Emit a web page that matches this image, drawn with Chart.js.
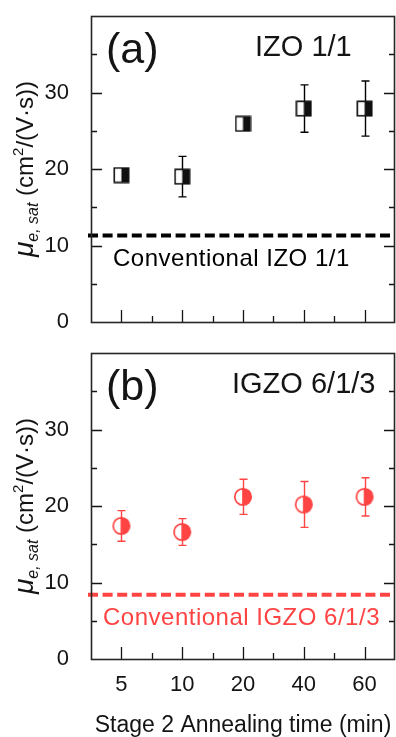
<!DOCTYPE html>
<html>
<head>
<meta charset="utf-8">
<script src="https://cdn.jsdelivr.net/npm/chart.js@4/dist/chart.umd.min.js"></script>
<style>
  html, body { margin: 0; padding: 0; background: #fff; }
  #wrap { position: relative; width: 396px; height: 737px; overflow: hidden; }
  canvas { position: absolute; left: 0; }
  #ca { top: 0; }
  #cb { top: 345px; }
</style>
</head>
<body>
<div id="wrap">
  <canvas id="ca" width="396" height="345"></canvas>
  <canvas id="cb" width="396" height="392"></canvas>
</div>
<script>
// ---- data ----
const categories = ['5', '10', '20', '40', '60'];
const izoMobility = [19.2, 19.0, 25.9, 27.9, 27.9];
const izoError = [0.5, 2.65, 0.5, 3.1, 3.6];
const igzoMobility = [17.4, 16.6, 21.2, 20.2, 21.2];
const igzoError = [2.0, 1.75, 2.3, 3.0, 2.5];
const izoConventional = 11.3;
const igzoConventional = 8.4;
const yMajorTicks = [0, 10, 20, 30];
const yMinorTicks = [5, 15, 25, 35];

const FONT = '"Liberation Sans", Arial, Helvetica, sans-serif';
const RED = '#ff4444';
const INK = '#141414';

function squareMarker() {
  const c = document.createElement('canvas');
  c.width = 17; c.height = 17;
  const g = c.getContext('2d');
  g.fillStyle = '#fff'; g.fillRect(1, 1, 15, 15);
  g.fillStyle = '#111'; g.fillRect(8.5, 1, 7.5, 15);
  g.strokeStyle = '#111'; g.lineWidth = 1.6;
  g.strokeRect(1.3, 1.3, 14.4, 14.4);
  return c;
}
function circleMarker() {
  const c = document.createElement('canvas');
  c.width = 20; c.height = 20;
  const g = c.getContext('2d');
  const cx = 10, cy = 10, r = 8.2;
  g.fillStyle = '#fff';
  g.beginPath(); g.arc(cx, cy, r, 0, Math.PI * 2); g.fill();
  g.fillStyle = RED;
  g.beginPath(); g.moveTo(cx, cy - r); g.arc(cx, cy, r, -Math.PI / 2, Math.PI / 2); g.closePath(); g.fill();
  g.strokeStyle = RED; g.lineWidth = 1.7;
  g.beginPath(); g.arc(cx, cy, r, 0, Math.PI * 2); g.stroke();
  g.beginPath(); g.moveTo(cx, cy - r); g.lineTo(cx, cy + r); g.stroke();
  return c;
}

function drawYTitle(ctx, cx, cy) {
  const parts = [
    { t: 'μ', f: 'italic 28px ' + FONT, dy: 0 },
    { t: 'e, sat', f: 'italic 16px ' + FONT, dy: 5 },
    { t: ' (cm', f: '24px ' + FONT, dy: 0 },
    { t: '2', f: '15px ' + FONT, dy: -10 },
    { t: '/(V·s))', f: '24px ' + FONT, dy: 0 }
  ];
  ctx.save();
  ctx.fillStyle = INK;
  ctx.textBaseline = 'alphabetic';
  ctx.textAlign = 'left';
  let total = 0;
  parts.forEach(p => { ctx.font = p.f; p.w = ctx.measureText(p.t).width; total += p.w; });
  ctx.translate(cx, cy);
  ctx.rotate(-Math.PI / 2);
  let x = -total / 2;
  parts.forEach(p => { ctx.font = p.f; ctx.fillText(p.t, x, p.dy); x += p.w; });
  ctx.restore();
}

function makeDeco(cfg) {
  return {
    id: 'deco' + cfg.key,
    beforeDatasetsDraw(chart) {
      const { ctx, chartArea: a, scales: { x, y } } = chart;
      ctx.save();
      const yy = y.getPixelForValue(cfg.conv);
      ctx.strokeStyle = cfg.color; ctx.lineWidth = 4; ctx.setLineDash([10, 4.6]);
      ctx.beginPath(); ctx.moveTo(a.left - 3, yy); ctx.lineTo(a.right, yy); ctx.stroke();
      ctx.setLineDash([]);
      const meta = chart.getDatasetMeta(0);
      ctx.strokeStyle = cfg.color; ctx.lineWidth = 1.4;
      meta.data.forEach((pt, i) => {
        const v = cfg.values[i], e = cfg.errors[i];
        const t = y.getPixelForValue(v + e), b = y.getPixelForValue(v - e);
        const xx = Math.round(pt.x) + 0.5;
        ctx.beginPath();
        ctx.moveTo(xx, t); ctx.lineTo(xx, b);
        ctx.moveTo(xx - 4, t); ctx.lineTo(xx + 4, t);
        ctx.moveTo(xx - 4, b); ctx.lineTo(xx + 4, b);
        ctx.stroke();
      });
      ctx.restore();
    },
    afterDraw(chart) {
      const { ctx, chartArea: a, scales: { x, y } } = chart;
      ctx.save();
      ctx.strokeStyle = INK; ctx.lineWidth = 1.3;
      ctx.beginPath();
      yMajorTicks.forEach(v => {
        if (v === 0) return;
        const p = Math.round(y.getPixelForValue(v)) + 0.5;
        ctx.moveTo(a.left, p); ctx.lineTo(a.left + 11, p);
        ctx.moveTo(a.right, p); ctx.lineTo(a.right - 11, p);
      });
      yMinorTicks.forEach(v => {
        const p = Math.round(y.getPixelForValue(v)) + 0.5;
        ctx.moveTo(a.left, p); ctx.lineTo(a.left + 6, p);
        ctx.moveTo(a.right, p); ctx.lineTo(a.right - 6, p);
      });
      categories.forEach((c, i) => {
        const p = Math.round(x.getPixelForValue(i)) + 0.5;
        ctx.moveTo(p, a.bottom); ctx.lineTo(p, a.bottom - 12);
        if (i < categories.length - 1) {
          const m = Math.round((x.getPixelForValue(i) + x.getPixelForValue(i + 1)) / 2) + 0.5;
          ctx.moveTo(m, a.bottom); ctx.lineTo(m, a.bottom - 6);
        }
      });
      ctx.stroke();
      ctx.strokeStyle = '#262626'; ctx.lineWidth = 1.6;
      ctx.strokeRect(a.left + 0.5, a.top + 0.5, a.right - a.left - 1, a.bottom - a.top);
      ctx.textAlign = 'left'; ctx.textBaseline = 'alphabetic';
      ctx.fillStyle = INK;
      ctx.font = '43px ' + FONT;
      ctx.fillText(cfg.panel, a.left + 15, a.top + 47);
      ctx.font = '29px ' + FONT;
      ctx.fillText(cfg.name, cfg.nameX, a.top + 40);
      ctx.fillStyle = cfg.color;
      ctx.font = '24px ' + FONT;
      ctx.letterSpacing = '0.5px';
      ctx.fillText(cfg.convLabel, cfg.convX, y.getPixelForValue(cfg.conv) + 30);
      ctx.letterSpacing = '0px';
      ctx.restore();
      drawYTitle(ctx, 33, (a.top + a.bottom) / 2);
    }
  };
}

function yScale() {
  return {
    min: 0, max: 40,
    grid: { display: false },
    border: { display: false },
    ticks: {
      stepSize: 5, autoSkip: false, padding: 14,
      color: INK, font: { family: FONT, size: 22 },
      callback: v => (yMajorTicks.includes(v) ? String(v) : '')
    },
    afterFit: s => { s.width = 91; s.paddingTop = 0; s.paddingBottom = 0; }
  };
}

Chart.defaults.font.family = FONT;

new Chart(document.getElementById('ca'), {
  type: 'line',
  data: {
    labels: categories,
    datasets: [{
      data: izoMobility, showLine: false, pointStyle: squareMarker(),
      pointRadius: 8, pointHoverRadius: 8, clip: false
    }]
  },
  options: {
    responsive: false, animation: false, devicePixelRatio: 1,
    layout: { autoPadding: false, padding: { top: 16, right: 1, left: 0, bottom: 23 } },
    plugins: { legend: { display: false }, tooltip: { enabled: false } },
    scales: {
      x: { type: 'category', offset: true, display: false },
      y: yScale()
    }
  },
  plugins: [makeDeco({
    key: 'a', panel: '(a)', name: 'IZO 1/1', nameX: 255, color: '#000',
    conv: izoConventional, convLabel: 'Conventional IZO 1/1', convX: 113,
    values: izoMobility, errors: izoError
  })]
});

new Chart(document.getElementById('cb'), {
  type: 'line',
  data: {
    labels: categories,
    datasets: [{
      data: igzoMobility, showLine: false, pointStyle: circleMarker(),
      pointRadius: 8, pointHoverRadius: 8, clip: false
    }]
  },
  options: {
    responsive: false, animation: false, devicePixelRatio: 1,
    layout: { autoPadding: false, padding: { top: 8, right: 1, left: 0, bottom: 0 } },
    plugins: { legend: { display: false }, tooltip: { enabled: false } },
    scales: {
      x: {
        type: 'category', offset: true,
        grid: { display: false }, border: { display: false },
        ticks: { padding: 5, color: INK, font: { family: FONT, size: 22 } },
        title: {
          display: true, text: 'Stage 2 Annealing time (min)', color: INK,
          font: { family: FONT, size: 23 }, padding: { top: 0, bottom: -2 }
        },
        afterFit: s => { s.height = 78; s.paddingLeft = 0; s.paddingRight = 0; }
      },
      y: yScale()
    }
  },
  plugins: [makeDeco({
    key: 'b', panel: '(b)', name: 'IGZO 6/1/3', nameX: 232, color: RED,
    conv: igzoConventional, convLabel: 'Conventional IGZO 6/1/3', convX: 103,
    values: igzoMobility, errors: igzoError
  })]
});
</script>
</body>
</html>
